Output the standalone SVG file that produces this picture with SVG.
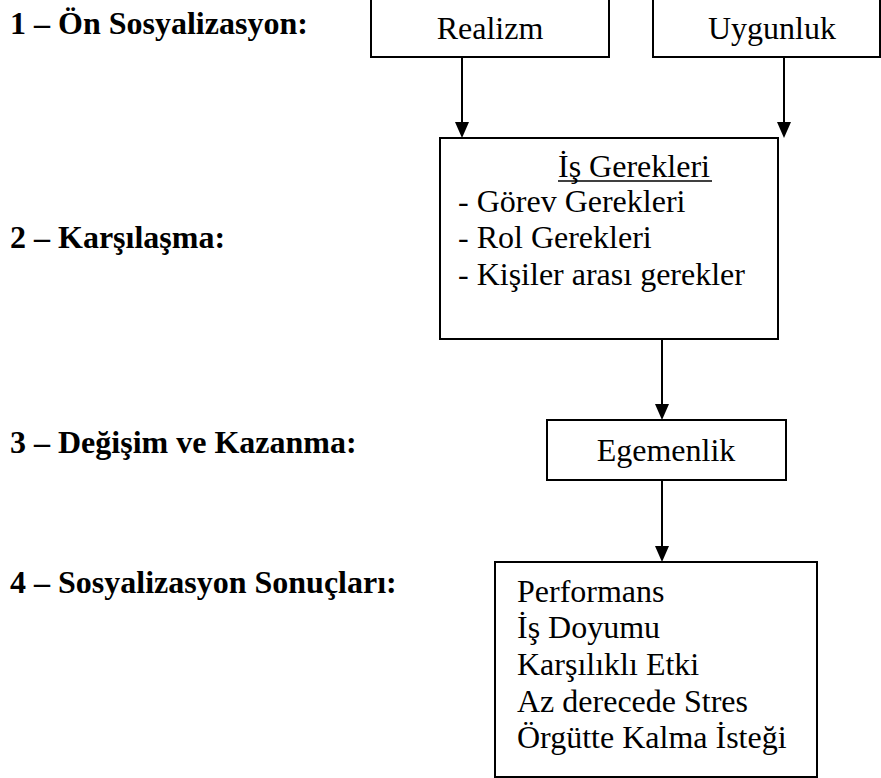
<svg xmlns="http://www.w3.org/2000/svg" width="881" height="778" viewBox="0 0 881 778">
<style>
.box{fill:#fff;stroke:#000;stroke-width:2}
.t{font-family:"Liberation Serif","Times New Roman",serif;font-size:32px;fill:#000}
.lbl{font-family:"Liberation Serif","Times New Roman",serif;font-size:32px;font-weight:bold;fill:#000}
.c{text-anchor:middle}
.con{stroke:#000;stroke-width:2;fill:none}
</style>
<defs>
<marker id="ah" markerUnits="userSpaceOnUse" markerWidth="16" markerHeight="17" refX="8" refY="16" orient="auto-start-reverse" viewBox="0 0 16 17">
<path d="M1,0 L15,0 L8,16 Z" fill="#000" transform="rotate(0)"/>
</marker>
</defs>
<rect width="881" height="778" fill="#fff"/>
<g id="labels">
<text class="lbl" x="10" y="34">1 – Ön Sosyalizasyon:</text>
<text class="lbl" x="10" y="248">2 – Karşılaşma:</text>
<text class="lbl" x="10" y="453">3 – Değişim ve Kazanma:</text>
<text class="lbl" x="10" y="593">4 – Sosyalizasyon Sonuçları:</text>
</g>
<g id="connectors">
<line class="con" x1="462" y1="57" x2="462" y2="122"/>
<path d="M455,122 L469,122 L462,138 Z" fill="#000"/>
<line class="con" x1="784" y1="57" x2="784" y2="122"/>
<path d="M777,122 L791,122 L784,138 Z" fill="#000"/>
<line class="con" x1="662" y1="339" x2="662" y2="404"/>
<path d="M655,404 L669,404 L662,420 Z" fill="#000"/>
<line class="con" x1="662" y1="480" x2="662" y2="546"/>
<path d="M655,546 L669,546 L662,562 Z" fill="#000"/>
</g>
<g id="realizm">
<rect class="box" x="371" y="-2" width="238" height="59"/>
<text class="t c" x="490" y="39">Realizm</text>
</g>
<g id="uygunluk">
<rect class="box" x="653" y="-2" width="227" height="59"/>
<text class="t c" x="772" y="39">Uygunluk</text>
</g>
<g id="is-gerekleri">
<rect class="box" x="440" y="138" width="338" height="201"/>
<text class="t" x="558" y="177">İş Gerekleri</text>
<line x1="558" y1="181" x2="712" y2="181" stroke="#000" stroke-width="1.6"/>
<text class="t" x="458" y="212">- Görev Gerekleri</text>
<text class="t" x="458" y="248">- Rol Gerekleri</text>
<text class="t" x="458" y="285">- Kişiler arası gerekler</text>
</g>
<g id="egemenlik">
<rect class="box" x="547" y="420" width="239" height="60"/>
<text class="t c" x="666" y="461">Egemenlik</text>
</g>
<g id="sonuclar">
<rect class="box" x="495" y="562" width="322" height="215"/>
<text class="t" x="517" y="602">Performans</text>
<text class="t" x="517" y="638">İş Doyumu</text>
<text class="t" x="517" y="675">Karşılıklı Etki</text>
<text class="t" x="517" y="712">Az derecede Stres</text>
<text class="t" x="517" y="748">Örgütte Kalma İsteği</text>
</g>
</svg>
